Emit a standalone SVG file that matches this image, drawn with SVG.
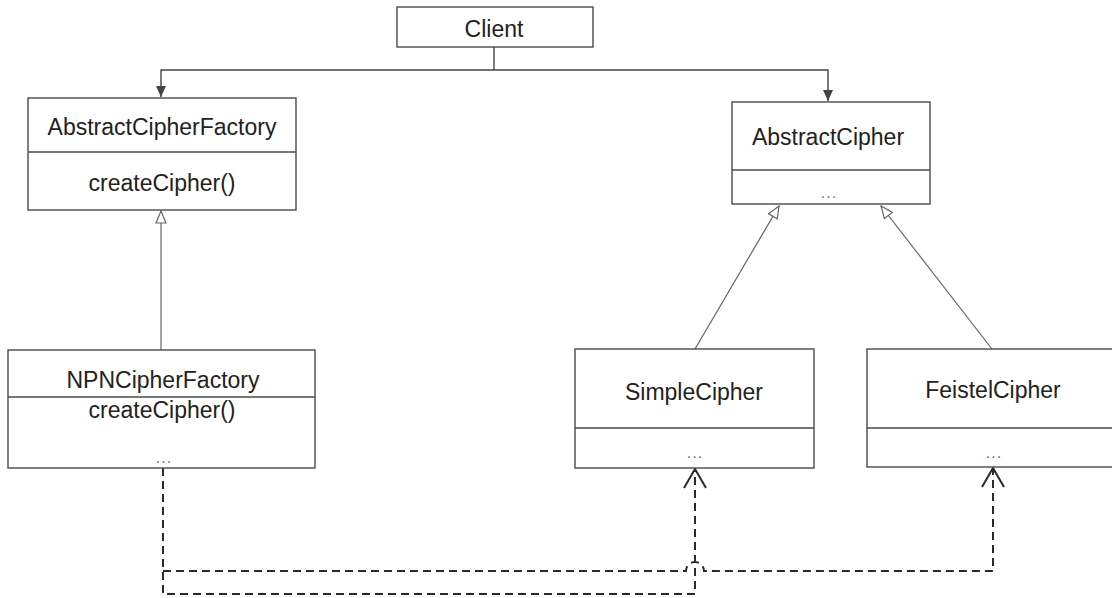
<svg xmlns="http://www.w3.org/2000/svg" width="1112" height="598" viewBox="0 0 1112 598">
<style>
.box{fill:#ffffff;stroke:#4a4a4a;stroke-width:1.4}
.div{stroke:#4a4a4a;stroke-width:1.4}
.t{font-family:"Liberation Sans",Arial,sans-serif;font-size:23px;fill:#222;text-anchor:middle}
.dots{font-family:"Liberation Sans",Arial,sans-serif;font-size:16px;fill:#777;text-anchor:middle;letter-spacing:1px}
.solid{fill:none;stroke:#444;stroke-width:1.4}
.gen{fill:none;stroke:#666;stroke-width:1.2}
.dash{fill:none;stroke:#2a2a2a;stroke-width:2;stroke-dasharray:8 5}
</style>
<defs>
<marker id="filled" markerUnits="userSpaceOnUse" markerWidth="12" markerHeight="10" viewBox="0 0 12 10" refX="11" refY="5" orient="auto">
<path d="M0,0 L11,5 L0,10 z" fill="#444" stroke="none"/>
</marker>
<marker id="hollow" markerUnits="userSpaceOnUse" markerWidth="14" markerHeight="12" viewBox="0 0 14 12" refX="13" refY="6" orient="auto">
<path d="M1,1 L13,6 L1,11 z" fill="#fff" stroke="#666" stroke-width="1.2"/>
</marker>
<marker id="openv" markerUnits="userSpaceOnUse" markerWidth="22" markerHeight="26" viewBox="0 0 22 26" refX="20" refY="13" orient="auto">
<path d="M1,2 L20,13 L1,24" fill="none" stroke="#2a2a2a" stroke-width="2" stroke-dasharray="none"/>
</marker>
</defs>
<rect width="1112" height="598" fill="#ffffff"/>
<g id="connectors">
<path class="solid" d="M494,47 V70"/>
<path class="solid" d="M494,70 H161 V97" marker-end="url(#filled)"/>
<path class="solid" d="M494,70 H828 V101" marker-end="url(#filled)"/>
<path class="gen" d="M161,350 V211" marker-end="url(#hollow)"/>
<path class="gen" d="M695,349 L779,206" marker-end="url(#hollow)"/>
<path class="gen" d="M992,349 L881,206" marker-end="url(#hollow)"/>
<path class="dash" d="M163,468 V594 H695 V469" marker-end="url(#openv)"/>
<path class="dash" d="M163,571 H686 A9,9 0 0 1 704,571 H993 V468" marker-end="url(#openv)"/>
</g>
<g id="client">
<rect class="box" x="397" y="7" width="196" height="40"/>
<text class="t" x="494" y="37">Client</text>
</g>
<g id="abstractCipherFactory">
<rect class="box" x="28" y="98" width="268" height="112"/>
<line class="div" x1="28" y1="152" x2="296" y2="152"/>
<text class="t" x="162" y="135">AbstractCipherFactory</text>
<text class="t" x="162" y="191">createCipher()</text>
</g>
<g id="abstractCipher">
<rect class="box" x="732" y="102" width="198" height="102"/>
<line class="div" x1="732" y1="170" x2="930" y2="170"/>
<text class="t" x="828" y="145">AbstractCipher</text>
<text class="dots" x="829" y="198">...</text>
</g>
<g id="npnCipherFactory">
<rect class="box" x="8" y="350" width="307" height="118"/>
<line class="div" x1="8" y1="397" x2="315" y2="397"/>
<text class="t" x="163" y="388">NPNCipherFactory</text>
<text class="t" x="162" y="418">createCipher()</text>
<text class="dots" x="164" y="463">...</text>
</g>
<g id="simpleCipher">
<rect class="box" x="575" y="349" width="239" height="119"/>
<line class="div" x1="575" y1="428" x2="814" y2="428"/>
<text class="t" x="694" y="400">SimpleCipher</text>
<text class="dots" x="695" y="458">...</text>
</g>
<g id="feistelCipher">
<rect class="box" x="867" y="349" width="252" height="118"/>
<line class="div" x1="867" y1="428" x2="1119" y2="428"/>
<text class="t" x="993" y="398">FeistelCipher</text>
<text class="dots" x="994" y="458">...</text>
</g>
</svg>
